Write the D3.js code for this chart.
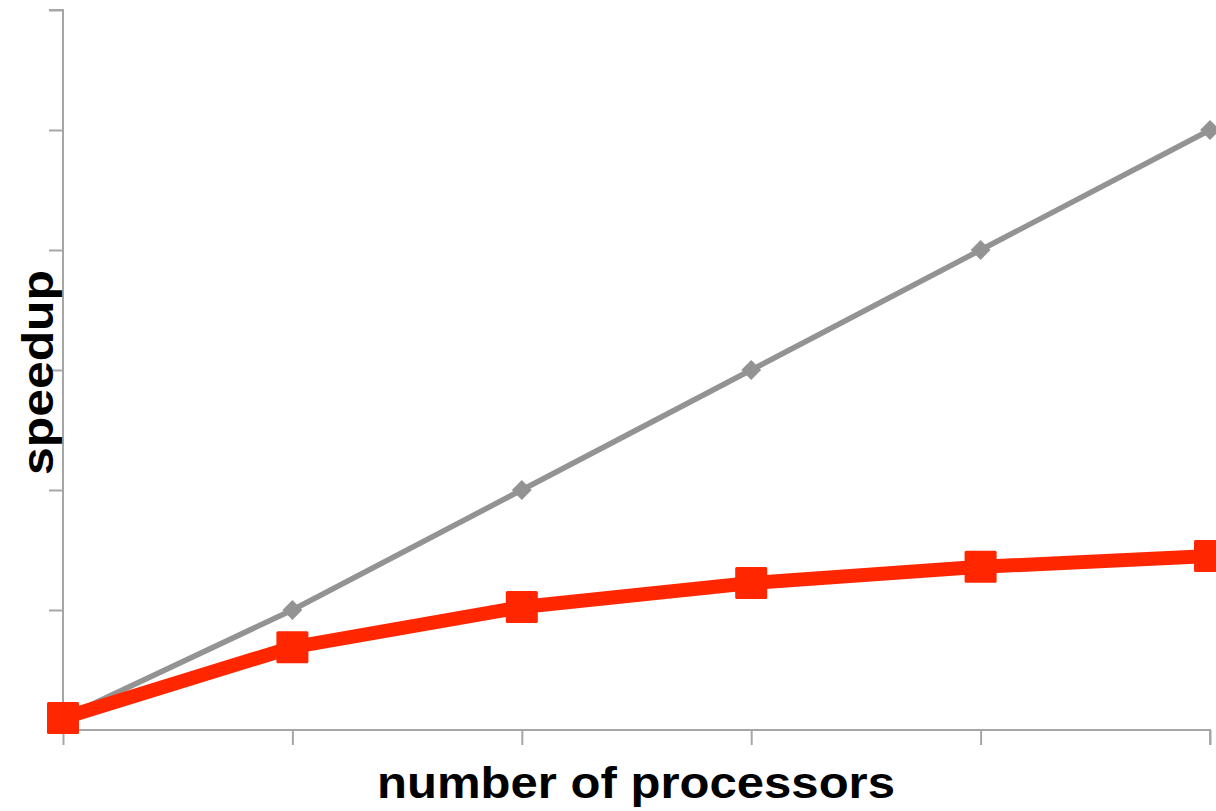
<!DOCTYPE html>
<html>
<head>
<meta charset="utf-8">
<script src="https://cdn.jsdelivr.net/npm/d3@7"></script>
<style>
html,body{margin:0;padding:0;background:#fff;}
svg{display:block;}
</style>
</head>
<body>
<svg id="chart" width="1216" height="811"></svg>
<script>
const categories = ["1", "10", "20", "30", "40", "50"];
const idealSpeedup = [1, 10, 20, 30, 40, 50];
const actualSpeedup = [1, 6.9, 10.25, 12.25, 13.6, 14.5];
const yTicks = [0, 10, 20, 30, 40, 50, 60];
const xLabel = "number of processors";
const yLabel = "speedup";

const svg = d3.select("#chart");
const margin = {left: 63, right: 6, top: 10, bottom: 81};
const W = 1216, H = 811;

const x = d3.scalePoint().domain(categories).range([margin.left, W - margin.right]);
const y = d3.scaleLinear().domain([0, 60]).range([H - margin.bottom, margin.top]);

const axisColor = "#a6a6a6";

// y axis
const yAxis = svg.append("g").attr("transform", `translate(${margin.left},0)`)
  .call(d3.axisLeft(y).tickValues(yTicks).tickSize(14).tickFormat(""));
// x axis
const xAxis = svg.append("g").attr("transform", `translate(0,${y(0)})`)
  .call(d3.axisBottom(x).tickSize(15).tickFormat(""));
[yAxis, xAxis].forEach(a => {
  a.select(".domain").attr("stroke", axisColor).attr("stroke-width", 2);
  a.selectAll(".tick line").attr("stroke", axisColor).attr("stroke-width", 2);
});
yAxis.select(".domain").attr("d", `M-14,${y(60)}H0V${y(0)}`);
xAxis.select(".domain").attr("d", `M${x(categories[0])},0H${x(categories[categories.length-1])}V15`);

const line = d3.line().x((d, i) => x(categories[i])).y(d => y(d));

// ideal line
svg.append("path").datum(idealSpeedup)
  .attr("d", line).attr("fill", "none").attr("stroke", "#939393").attr("stroke-width", 5.5);
svg.selectAll(".diamond").data(idealSpeedup).enter().append("rect")
  .attr("class", "diamond")
  .attr("x", -7).attr("y", -7).attr("width", 14).attr("height", 14)
  .attr("fill", "#939393")
  .attr("transform", (d, i) => `translate(${x(categories[i])},${y(d)}) rotate(45)`);

// actual line
svg.append("path").datum(actualSpeedup)
  .attr("d", line).attr("fill", "none").attr("stroke", "#ff2600").attr("stroke-width", 14);
svg.selectAll(".sq").data(actualSpeedup).enter().append("rect")
  .attr("class", "sq")
  .attr("x", (d, i) => x(categories[i]) - 16).attr("y", d => y(d) - 16)
  .attr("width", 32).attr("height", 32).attr("rx", 1.5)
  .attr("fill", "#ff2600");

// labels
svg.append("text").text(xLabel)
  .attr("x", 377).attr("y", 798)
  .attr("textLength", 518).attr("lengthAdjust", "spacingAndGlyphs")
  .attr("font-family", "Liberation Sans, Arial, sans-serif")
  .attr("font-weight", "bold").attr("font-size", 45).attr("fill", "#000");
svg.append("text").text(yLabel)
  .attr("transform", "translate(53,475) rotate(-90)")
  .attr("textLength", 205).attr("lengthAdjust", "spacingAndGlyphs")
  .attr("font-family", "Liberation Sans, Arial, sans-serif")
  .attr("font-weight", "bold").attr("font-size", 45).attr("fill", "#000");
</script>
</body>
</html>
